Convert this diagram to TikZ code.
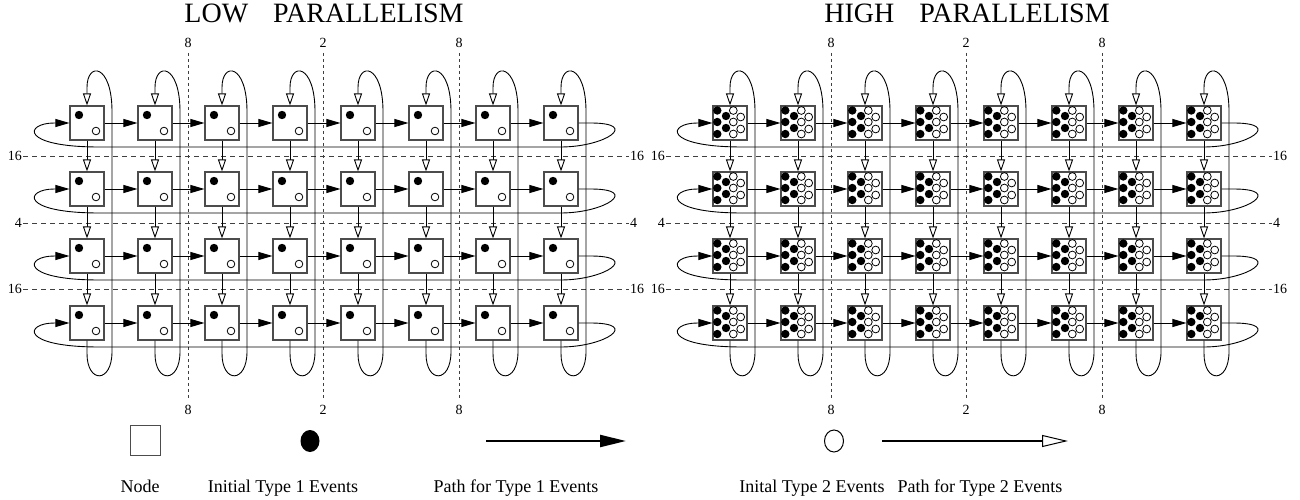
\documentclass[tikz,border=0pt]{standalone}
\usepackage{fontspec}
\setmainfont{Liberation Serif}
\usetikzlibrary{arrows.meta,calc}

\tikzset{
  cell/.style={draw=black!70, line width=1.1pt, minimum size=34pt, inner sep=0pt},
  ev1/.style={line width=0.9pt, -{Triangle[length=14pt,width=8pt]}},
  ev2/.style={line width=0.9pt, -{Triangle[open,length=12pt,width=8pt,fill=white]}},
  hcut/.style={black!75, line width=0.8pt, dash pattern=on 5pt off 4pt},
  vcut/.style={black!75, line width=0.8pt, dash pattern=on 3pt off 3pt},
  tick/.style={font=\fontsize{14}{16}\selectfont, inner sep=1pt},
  title/.style={font=\fontsize{28}{32}\selectfont, anchor=base},
  key/.style={font=\fontsize{18}{21}\selectfont, anchor=base},
}

% dots inside a node
\newcommand\lowdots[1]{%
  \fill (#1.center) ++(-8,-8) circle[radius=4.2pt];
  \draw[line width=0.8pt] (#1.center) ++(9,8) circle[radius=3.8pt];
}
\newcommand\highdots[1]{%
  \foreach \u/\v in {3.3/-12.5,10.7/-6,3.3/-1,10.7/6,3.3/11}
    \draw[line width=0.8pt, fill=white] (#1.center) ++(\u,\v) circle[radius=3.9pt];
  \foreach \u/\v in {-12.7/-12.5,-4/-7,-12.7/-1,-4/5,-12.7/11}
    \fill (#1.center) ++(\u,\v) circle[radius=4.2pt];
}

\begin{document}
\begin{tikzpicture}[x=1pt,y=-1pt]
\useasboundingbox (0,0) rectangle (1300,500);

% titles
\node[title] (lowtitle) at (324,23) {LOW\hspace{25pt}PARALLELISM};
\node[title] (hightitle) at (967,23) {HIGH\hspace{25pt}PARALLELISM};

\foreach \g/\dx in {L/0,H/643} {
  % partition lines
  \foreach \k/\y/\t in {1/156/16,2/223/4,3/289/16} {
    \node[tick, anchor=east] (\g-hl\k) at (23+\dx,\y) {\t};
    \node[tick, anchor=west] (\g-hr\k) at (629+\dx,\y) {\t};
    \draw[hcut] (\g-hl\k) -- (\g-hr\k);
  }
  \foreach \k/\x/\t in {1/188/8,2/323/2,3/459/8} {
    \node[tick, inner sep=5pt] (\g-vt\k) at (\x+\dx,43) {\t};
    \node[tick, inner sep=5pt] (\g-vb\k) at (\x+\dx,410) {\t};
    \draw[vcut] (\g-vt\k) -- (\g-vb\k);
  }
  % nodes
  \foreach \r/\y in {1/123,2/189,3/256,4/323}
    \foreach \c/\x in {1/87,2/155,3/222,4/290,5/358,6/426,7/493,8/561}
      \node[cell] (\g-\r-\c) at (\x+\dx,\y) {};
}

\foreach \r in {1,...,4}
  \foreach \c in {1,...,8} {
    \lowdots{L-\r-\c}
    \highdots{H-\r-\c}
  }

% type 1 paths
\foreach \g in {L,H}
  \foreach \r in {1,...,4} {
    \foreach \c [evaluate=\c as \n using int(\c+1)] in {1,...,7}
      \draw[ev1] (\g-\r-\c) -- (\g-\r-\n);
    \draw[ev1] (\g-\r-8.east) -- ++(12,0) .. controls +(50,0) and +(45,0) .. ++(-30,24)
      -- ($(\g-\r-1.west)+(30,24)$) .. controls +(-80,0) and +(-30,0) .. ($(\g-\r-1.west)+(-15,0)$)
      -- (\g-\r-1.west);
  }

% type 2 paths
\foreach \g in {L,H}
  \foreach \c in {1,...,8} {
    \foreach \r [evaluate=\r as \n using int(\r+1)] in {1,2,3}
      \draw[ev2] (\g-\r-\c) -- (\g-\n-\c);
    \draw[ev2] (\g-4-\c.south) -- ++(0,13) .. controls +(0,30) and +(0,32) .. ++(25,-2)
      -- ++(0,-240) .. controls +(0,-48) and +(0,-26) .. ($(\g-1-\c.north)+(0,-18)$)
      -- (\g-1-\c.north);
  }

% legend
\node[draw=black!70, line width=0.8pt, minimum size=30pt] (keynode) at (145,440) {};
\fill (310,441) ellipse[x radius=9.5pt, y radius=11pt];
\coordinate (p1a) at (486,441);
\coordinate (p1b) at (626,441);
\draw[line width=2.2pt, -{Triangle[length=26pt,width=12pt]}] (p1a) -- (p1b);
\draw[line width=1pt] (834,441) ellipse[x radius=9.5pt, y radius=11pt];
\coordinate (p2a) at (882,441);
\coordinate (p2b) at (1068,441);
\draw[line width=2.2pt, -{Triangle[open,length=26pt,width=12pt,fill=white,line width=1pt]}] (p2a) -- (p2b);

\node[key] at (140,492) {Node};
\node[key] at (283,492) {Initial Type 1 Events};
\node[key] at (516,492) {Path for Type 1 Events};
\node[key] at (812,492) {Inital Type 2 Events};
\node[key] at (980,492) {Path for Type 2 Events};
\end{tikzpicture}
\end{document}
